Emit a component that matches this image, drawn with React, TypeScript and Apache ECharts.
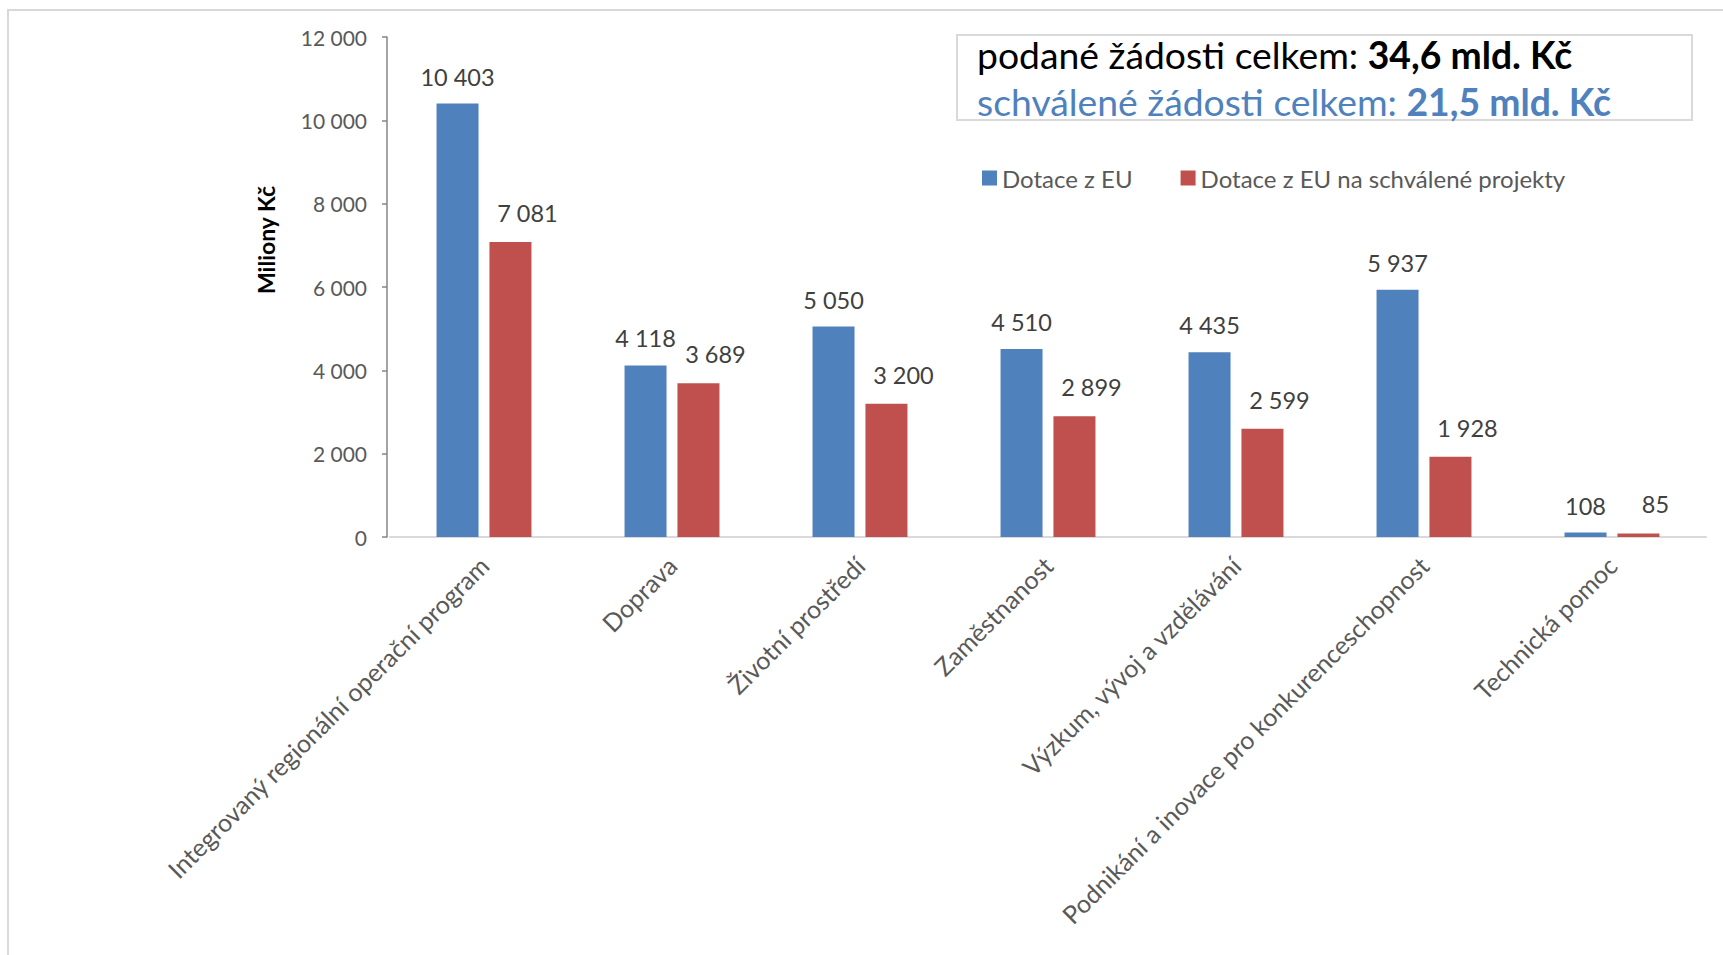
import React, { useEffect, useRef } from "react";
import * as echarts from "echarts";

const categories = [
  "Integrovaný regionální operační program",
  "Doprava",
  "Životní prostředí",
  "Zaměstnanost",
  "Výzkum, vývoj a vzdělávání",
  "Podnikání a inovace pro konkurenceschopnost",
  "Technická pomoc",
];
const dotaceEU = [10403, 4118, 5050, 4510, 4435, 5937, 108];
const dotaceSchvalene = [7081, 3689, 3200, 2899, 2599, 1928, 85];
const seriesNames = ["Dotace z EU", "Dotace z EU na schválené projekty"];
const yAxisTitle = "Miliony Kč";
const boxLine1 = ["podané žádosti celkem: ", "34,6 mld. Kč"];
const boxLine2 = ["schválené žádosti celkem: ", "21,5 mld. Kč"];

const FONT = "Lato, 'Open Sans', sans-serif";
const fmt = (v: number) => String(v).replace(/\B(?=(\d{3})+(?!\d))/g, " ");

export default function App() {
  const ref = useRef<HTMLDivElement>(null);
  useEffect(() => {
    if (!ref.current) return;
    const chart = echarts.init(ref.current, null, { renderer: "svg" });
    const labelStyle = {
      show: true,
      position: "top" as const,
      distance: 15,
      fontSize: 23.5,
      color: "#404040",
      fontFamily: FONT,
      formatter: (p: any) => fmt(p.value),
    };
    chart.setOption({
      animation: false,
      backgroundColor: "#ffffff",
      textStyle: { fontFamily: FONT },
      grid: { left: 390, right: 17, top: 37, bottom: 418, containLabel: false },
      legend: {
        left: 977,
        top: 161,
        itemWidth: 15,
        itemHeight: 15,
        itemGap: 48,
        icon: "rect",
        textStyle: { fontSize: 24, color: "#595959", fontFamily: FONT },
        data: seriesNames,
      },
      xAxis: {
        type: "category",
        data: categories,
        axisLine: { show: true, lineStyle: { color: "#d9d9d9", width: 2 } },
        axisTick: { show: false },
        axisLabel: {
          rotate: 45,
          interval: 0,
          margin: 24,
          fontSize: 25,
          color: "#595959",
          fontFamily: FONT,
        },
      },
      yAxis: {
        type: "value",
        min: 0,
        max: 12000,
        interval: 2000,
        offset: 3,
        axisLine: { show: true, lineStyle: { color: "#868686", width: 1.5 } },
        axisTick: { show: true, length: 5, lineStyle: { color: "#868686", width: 1.5 } },
        splitLine: { show: false },
        axisLabel: {
          margin: 20,
          fontSize: 21,
          color: "#595959",
          fontFamily: FONT,
          formatter: (v: number) => fmt(v),
        },
      },
      series: [
        {
          name: seriesNames[0],
          type: "bar",
          data: dotaceEU,
          barWidth: 42,
          barGap: "26%",
          itemStyle: { color: "#4f81bd" },
          label: labelStyle,
        },
        {
          name: seriesNames[1],
          type: "bar",
          data: dotaceSchvalene,
          barWidth: 42,
          itemStyle: { color: "#c0504d" },
          label: { ...labelStyle, offset: [17, -2] },
        },
      ],
      graphic: [
        {
          type: "rect",
          shape: { x: 8, y: 10, width: 1800, height: 1000 },
          style: { fill: "none", stroke: "#d9d9d9", lineWidth: 2 },
          silent: true,
        },
        {
          type: "rect",
          shape: { x: 957, y: 35, width: 735, height: 85 },
          style: { fill: "#ffffff", stroke: "#d9d9d9", lineWidth: 2 },
          silent: true,
        },
        {
          type: "text",
          x: 977,
          y: 54,
          style: {
            text: `{n|${boxLine1[0]}}{b|${boxLine1[1]}}`,
            verticalAlign: "middle",
            rich: {
              n: { fontSize: 37.3, fill: "#000000", fontFamily: FONT },
              b: { fontSize: 37.3, fill: "#000000", fontWeight: "bold", fontFamily: FONT },
            },
          },
        },
        {
          type: "text",
          x: 977,
          y: 101,
          style: {
            text: `{n|${boxLine2[0]}}{b|${boxLine2[1]}}`,
            verticalAlign: "middle",
            rich: {
              n: { fontSize: 37.3, fill: "#4f81bd", fontFamily: FONT },
              b: { fontSize: 37.3, fill: "#4f81bd", fontWeight: "bold", fontFamily: FONT },
            },
          },
        },
        {
          type: "text",
          x: 266,
          y: 240,
          rotation: Math.PI / 2,
          style: {
            text: yAxisTitle,
            fontSize: 23,
            fontWeight: "bold",
            fill: "#000000",
            fontFamily: FONT,
            align: "center",
            verticalAlign: "middle",
          },
        },
      ],
    });
    return () => chart.dispose();
  }, []);
  return (
    <div
      ref={ref}
      style={{ position: "absolute", left: 0, top: 0, width: 1723, height: 955, background: "#fff" }}
    />
  );
}
